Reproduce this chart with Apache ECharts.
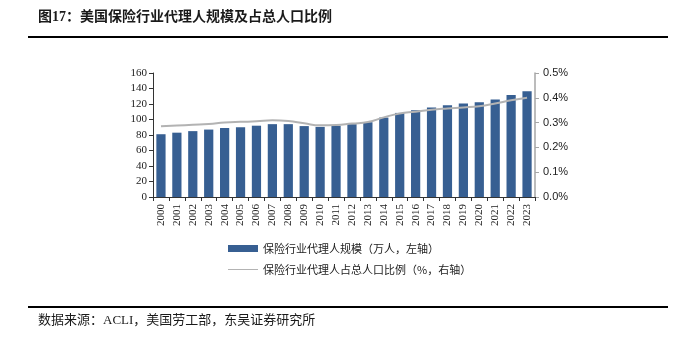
<!DOCTYPE html>
<html><head><meta charset="utf-8">
<script src="https://cdn.jsdelivr.net/npm/echarts@6/dist/echarts.min.js"></script>
<style>html,body{margin:0;padding:0;background:#fff}#c{width:684px;height:341px}</style>
</head><body><div id="c"></div>
<script>
const years = ['2000','2001','2002','2003','2004','2005','2006','2007','2008','2009','2010','2011','2012','2013','2014','2015','2016','2017','2018','2019','2020','2021','2022','2023'];
const agents = [81,83,85,87,89,90,92,94,94,91.5,90.5,92,94,96.5,102.5,108.5,112,115.5,118.5,120.5,122.3,125.8,131.5,136.5];
const ratio = [0.285,0.288,0.291,0.294,0.300,0.303,0.305,0.309,0.306,0.297,0.289,0.290,0.296,0.302,0.321,0.337,0.344,0.352,0.357,0.361,0.366,0.377,0.390,0.400];
const leftTicks = [0,20,40,60,80,100,120,140,160];
const rightTicks = [0,0.1,0.2,0.3,0.4,0.5];
const barName = '保险行业代理人规模（万人，左轴）';
const lineName = '保险行业代理人占总人口比例（%，右轴）';
const titleText = '图17：美国保险行业代理人规模及占总人口比例';
const sourceText = '数据来源：ACLI，美国劳工部，东吴证券研究所';

const serif = '"Liberation Serif","Noto Sans CJK SC",serif';
const chart = echarts.init(document.getElementById('c'), null, {renderer:'canvas'});
chart.setOption({
  animation:false,
  textStyle:{fontFamily:serif},
  graphic:[
    {type:'text',left:38,top:10,style:{text:titleText,font:'bold 14px '+serif,fill:'#1a1a1a'}},
    {type:'rect',shape:{x:28,y:36,width:640,height:2},style:{fill:'#000'}},
    {type:'rect',shape:{x:28,y:306,width:640,height:2},style:{fill:'#000'}},
    {type:'text',left:38,top:314,style:{text:sourceText,font:'13px '+serif,fill:'#1a1a1a'}}
  ],
  grid:{left:153,right:149,top:73,bottom:144,containLabel:false},
  legend:{
    orient:'vertical',left:228,top:243,padding:0,itemGap:10,itemWidth:30,itemHeight:7,
    textStyle:{fontSize:11,fontFamily:'"Noto Sans CJK SC",sans-serif',color:'#222'},
    data:[{name:barName,icon:'rect'},{name:lineName,icon:'path://M0,0H30V1H0Z',itemStyle:{color:'#b3b3b3'}}]
  },
  xAxis:{
    type:'category',data:years,
    axisLine:{lineStyle:{color:'#333',width:1}},
    axisTick:{show:true,alignWithLabel:false,lineStyle:{color:'#333'},length:4},
    axisLabel:{rotate:90,interval:0,fontSize:11,color:'#222',fontFamily:serif,margin:7}
  },
  yAxis:[
    {type:'value',min:0,max:160,interval:20,
     axisLine:{show:true,lineStyle:{color:'#333'}},
     axisTick:{show:true,length:4,lineStyle:{color:'#333'}},
     splitLine:{show:false},
     axisLabel:{fontSize:11,color:'#222',fontFamily:serif,margin:6}},
    {type:'value',min:0,max:0.5,interval:0.1,position:'right',
     axisLine:{show:true,lineStyle:{color:'#a6a6a6',width:1.5}},
     axisTick:{show:true,length:4,lineStyle:{color:'#a6a6a6'}},
     splitLine:{show:false},
     axisLabel:{fontSize:11,color:'#222',fontFamily:'"Liberation Sans",Arial,sans-serif',margin:8,
       formatter:v=>v.toFixed(1)+'%'}}
  ],
  series:[
    {name:barName,type:'bar',data:agents,barWidth:'58%',itemStyle:{color:'#375f92'},yAxisIndex:0},
    {name:lineName,type:'line',data:ratio,yAxisIndex:1,smooth:true,showSymbol:false,symbol:'none',
     lineStyle:{color:'#b3b3b3',width:2},itemStyle:{color:'#b3b3b3'}}
  ]
});
</script></body></html>
